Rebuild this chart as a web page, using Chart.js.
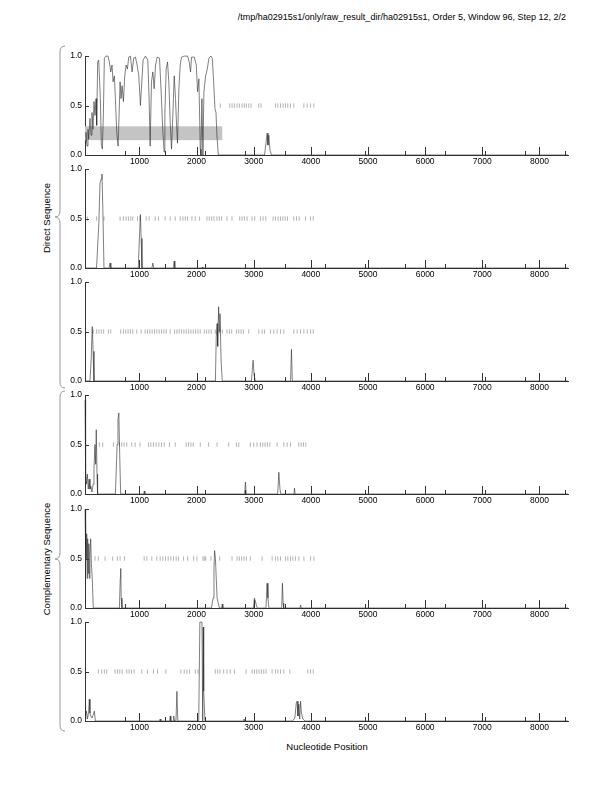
<!DOCTYPE html>
<html><head><meta charset="utf-8">
<script src="https://cdn.jsdelivr.net/npm/chart.js@4.4.0/dist/chart.umd.min.js"></script>
<style>
html,body{margin:0;padding:0;background:#fff;width:612px;height:792px;overflow:hidden;font-family:"Liberation Sans",Arial,sans-serif;}
canvas{position:absolute;left:0;}
.t{position:absolute;color:#000;white-space:nowrap;font-family:"Liberation Sans",Arial,sans-serif;}
.rot{transform:translate(-50%,-50%) rotate(-90deg);}
svg{position:absolute;left:0;top:0;}
</style></head><body>
<div class="t" style="right:46px;top:12px;font-size:9px;">/tmp/ha02915s1/only/raw_result_dir/ha02915s1, Order 5, Window 96, Step 12, 2/2</div>
<div class="t rot" style="left:46px;top:218px;font-size:9.5px;">Direct Sequence</div>
<div class="t rot" style="left:46px;top:559px;font-size:9.5px;">Complementary Sequence</div>
<div class="t" style="left:327px;top:746px;font-size:9.5px;transform:translate(-50%,-50%);">Nucleotide Position</div>
<svg width="612" height="792">
<path d="M65,46 Q60,46 60,52 L60,211 Q60,217 55,217 Q60,217 60,223 L60,382 Q60,388 65,388" fill="none" stroke="#999" stroke-width="1"/>
<path d="M65,391 Q60,391 60,397 L60,553 Q60,559 55,559 Q60,559 60,565 L60,725 Q60,731 65,731" fill="none" stroke="#999" stroke-width="1"/>
</svg>
<script>
// ---- axis ----
const xMin = 48, xMax = 8500;
const xTickValues = [1000,2000,3000,4000,5000,6000,7000,8000];
const xMinorTicks = [750,1450,2150,2850,3550,4250,4950,5650,6350,7050,7750,8450];
const yTickValues = [0, 0.5, 1];
const markerLevel = 0.5;

// ---- panel 1 (direct, frame 1) ----
const p1Pos = [48,65,83,100,112,135,153,170,188,206,223,241,252,270,287,317,334,352,369,387,416,451,475,498,521,539,562,580,603,627,644,662,679,697,720,744,767,790,814,843,872,901,931,960,989,1018,1042,1065,1106,1147,1170,1188,1211,1235,1258,1282,1311,1352,1386,1410,1433,1445,1468,1492,1515,1539,1562,1585,1609,1632,1650,1667,1691,1714,1737,1784,1843,1872,1895,1913,1960,1995,2018,2041,2065,2077,2094,2112,2129,2158,2188,2217,2252,2275,2299,2322,2340,2357,2381,3190,3215,3235,3250,3265,3285,3310,8500];
const p1Val = [0.12,0.23,0.09,0.26,0.16,0.37,0.2,0.43,0.26,0.54,0.4,0.57,0.3,0.94,0.96,0.57,0.1,0.06,0.4,0.98,1.0,1.0,0.94,0.84,0.91,0.74,0.8,0.57,0.23,0.09,0.4,0.74,0.57,0.7,0.54,0.8,0.91,0.87,0.99,1.0,0.84,0.98,0.99,0.91,0.8,0.5,0.74,0.96,1.0,0.96,0.57,0.09,0.74,0.84,0.67,0.91,0.99,0.98,0.57,0.23,0.03,0.4,0.87,0.94,0.74,0.33,0.06,0.4,0.8,0.57,0.3,0.12,0.67,0.91,0.99,1.0,1.0,0.94,0.84,0.99,0.99,0.91,0.64,0.77,0.06,0.0,0.57,0.0,0.64,0.8,0.87,0.98,1.0,0.98,0.74,0.47,0.43,0.2,0.0,0.0,0.12,0.22,0.1,0.2,0.05,0.0,0.0];
const p1Marks = [2416,2580,2621,2662,2708,2749,2796,2837,2872,2913,2954,3088,3129,3381,3422,3469,3515,3556,3597,3644,3702,3878,3936,3995,4053];
const p1Region = [48, 2450, 0.15, 0.29]; // start, end, low, high

// ---- panel 2 ----
const p2Pos = [48,250,290,310,330,345,360,380,470,486,500,980,1000,1018,1030,1045,1220,1235,1250,1595,1609,1620,2090,2100,2110,8500];
const p2Val = [0,0,0.45,0.85,0.9,0.95,0.6,0,0,0.05,0,0,0.3,0.54,0.3,0,0,0.05,0,0,0.07,0,0,0.01,0,0];
const p2Marks = [88,252,381,662,720,767,808,849,884,966,1012,1118,1170,1276,1334,1451,1539,1626,1714,1761,1802,1843,1919,1977,2053,2182,2223,2264,2305,2357,2398,2439,2533,2620,2755,2796,2837,2884,2971,3018,3118,3164,3211,3340,3381,3427,3468,3509,3550,3591,3702,3749,3796,3907,3995,4042];

// ---- panel 3 ----
const p3Pos = [48,135,155,175,190,205,2330,2345,2360,2370,2386,2400,2410,2430,2450,2960,2989,3010,3030,3645,3661,3675,8500];
const p3Val = [0,0,0.2,0.55,0.3,0,0,0.45,0.58,0.35,0.75,0.5,0.68,0.2,0,0,0.21,0.05,0,0,0.32,0,0];
const p3Marks = [194,252,293,334,375,457,498,673,720,761,802,843,884,954,1030,1100,1141,1182,1223,1264,1305,1346,1387,1428,1469,1539,1615,1656,1697,1738,1779,1820,1861,1902,1942,1983,2024,2065,2135,2176,2217,2258,2328,2369,2410,2451,2533,2574,2615,2697,2738,2779,2820,2913,3089,3147,3188,3293,3352,3410,3469,3527,3703,3761,3820,3878,3937,3995,4042];

// ---- panel 4 (complementary) ----
const p4Pos = [48,55,62,75,90,105,120,135,150,170,190,205,222,235,245,258,268,580,610,625,640,655,672,1075,1085,1095,2840,2855,2870,3420,3440,3460,3475,3705,3714,3725,8500];
const p4Val = [0.95,0.7,0.25,0.1,0.2,0.05,0.15,0.05,0.08,0.02,0.1,0.25,0.5,0.3,0.65,0.2,0,0,0.5,0.75,0.82,0.4,0,0,0.03,0,0,0.12,0,0,0.22,0.05,0,0,0.06,0,0];
const p4Marks = [299,358,545,650,691,732,779,866,925,1012,1159,1200,1246,1293,1340,1387,1434,1527,1627,1820,1860,1901,1942,2065,2211,2358,2562,2697,2738,2942,3001,3059,3118,3159,3200,3241,3282,3410,3527,3586,3644,3790,3831,3872,3913];

// ---- panel 5 ----
const p5Pos = [48,55,62,70,78,85,95,105,115,125,135,147,160,175,193,650,665,673,682,695,2260,2275,2290,2305,2316,2330,2345,2360,2400,2440,2450,2460,2995,3012,3030,3045,3060,3215,3234,3250,3265,3490,3503,3515,3525,3810,3820,3830,8500];
const p5Val = [1.0,0.6,0.9,0.5,0.75,0.3,0.7,0.35,0.65,0.3,0.55,0.7,0.45,0.3,0,0,0.3,0.4,0.1,0,0,0.05,0.1,0.4,0.58,0.5,0.3,0.1,0,0,0.04,0,0,0.1,0.07,0.03,0,0,0.25,0.1,0,0,0.25,0.05,0,0,0.03,0,0];
const p5Marks = [223,282,399,533,615,662,738,1083,1130,1217,1305,1364,1410,1457,1504,1551,1597,1644,1685,1773,1843,1948,2007,2112,2135,2159,2252,2404,2621,2709,2749,2790,2831,2872,2942,3147,3323,3381,3422,3469,3557,3597,3644,3685,3732,3790,3878,3995,4054];

// ---- panel 6 ----
const p6Pos = [48,60,75,90,110,123,135,150,170,190,212,230,1350,1363,1375,1530,1540,1550,1590,1600,1615,1640,1656,1672,2038,2058,2070,2095,2108,2118,2125,2148,2820,2830,2840,3680,3720,3745,3760,3775,3790,3805,3820,3835,3860,3900,8500];
const p6Val = [0.02,0.05,0.1,0.02,0.08,0.22,0.08,0.05,0.03,0.06,0.1,0,0,0.02,0,0,0.05,0,0,0.05,0,0,0.3,0,0,1.0,1.0,1.0,0,0.95,0.3,0,0,0.02,0,0,0.03,0.18,0.2,0.05,0.17,0.02,0.2,0.08,0.02,0,0];
const p6Marks = [282,340,387,428,574,615,656,697,779,820,861,907,1042,1141,1246,1317,1463,1726,1784,1831,1878,1977,2024,2328,2369,2410,2475,2533,2591,2662,2866,2972,3013,3053,3094,3135,3176,3217,3322,3381,3422,3469,3527,3632,3948,3995,4042];

const panels = [
  {pos:p1Pos, val:p1Val, marks:p1Marks, region:p1Region},
  {pos:p2Pos, val:p2Val, marks:p2Marks},
  {pos:p3Pos, val:p3Val, marks:p3Marks},
  {pos:p4Pos, val:p4Val, marks:p4Marks},
  {pos:p5Pos, val:p5Val, marks:p5Marks},
  {pos:p6Pos, val:p6Val, marks:p6Marks}
];

const FONT = {family:'"Liberation Sans", Arial, sans-serif', size:8.5};
const PAD_TOP = 8, AXIS_H = 20, AREA_H = 98.8, LEFT = 85, RIGHT_PAD = 44;

const regionPlugin = {
  id:'region',
  beforeDatasetsDraw(chart, args, opts){
    const r = opts.region; if(!r) return;
    const {ctx, scales:{x,y}} = chart;
    const x0 = x.getPixelForValue(r[0]), x1 = x.getPixelForValue(r[1]);
    const y0 = y.getPixelForValue(r[3]), y1 = y.getPixelForValue(r[2]);
    ctx.save(); ctx.fillStyle = '#c4c4c4'; ctx.fillRect(x0, y0, x1-x0, y1-y0); ctx.restore();
  }
};
const innerTicks = {
  id:'innerTicks',
  afterDraw(chart){
    const {ctx, scales:{x,y}, chartArea:a} = chart;
    ctx.save(); ctx.strokeStyle = '#333'; ctx.lineWidth = 1;
    ctx.beginPath();
    xTickValues.forEach(v=>{const px=Math.round(x.getPixelForValue(v))+0.5; ctx.moveTo(px,a.bottom); ctx.lineTo(px,a.bottom-8);});
    xMinorTicks.forEach(v=>{const px=Math.round(x.getPixelForValue(v))+0.5; ctx.moveTo(px,a.bottom); ctx.lineTo(px,a.bottom-4);});
    yTickValues.forEach(v=>{const py=Math.round(y.getPixelForValue(v))+0.5; ctx.moveTo(a.left,py); ctx.lineTo(a.left+4,py);});
    ctx.stroke(); ctx.restore();
  }
};

panels.forEach((p, i) => {
  const areaTop = 55.5 + 113.3 * i;
  const cv = document.createElement('canvas');
  const h = Math.round(PAD_TOP + AREA_H + AXIS_H);
  cv.width = 612; cv.height = h;
  cv.style.width = '612px'; cv.style.height = h + 'px';
  cv.style.top = (areaTop - PAD_TOP) + 'px';
  document.body.appendChild(cv);
  new Chart(cv, {
    type:'line',
    data:{datasets:[
      {type:'line', data:p.pos.map((x,k)=>({x, y:p.val[k]})), borderColor:'rgba(40,40,40,0.85)', borderWidth:0.7, pointRadius:0, tension:0, clip:3},
      {type:'scatter', data:p.marks.map(x=>({x, y:markerLevel})), pointStyle:'line', rotation:90, pointRadius:2.2, borderColor:'#a0a0a0', borderWidth:0.8, backgroundColor:'#a0a0a0'}
    ]},
    options:{
      responsive:false, animation:false, devicePixelRatio:1,
      layout:{padding:{top:PAD_TOP, right:RIGHT_PAD, left:0, bottom:0}},
      plugins:{legend:{display:false}, tooltip:{enabled:false}, region:{region:p.region}},
      scales:{
        x:{type:'linear', min:xMin, max:xMax,
           afterBuildTicks(s){ s.ticks = xTickValues.map(v=>({value:v})); },
           afterFit(s){ s.height = AXIS_H; },
           ticks:{font:FONT, color:'#000', padding:2, maxRotation:0, autoSkip:false, callback:v=>String(v)},
           grid:{display:false, drawTicks:false}, border:{display:true, color:'#333', width:1}},
        y:{type:'linear', min:0, max:1,
           afterBuildTicks(s){ s.ticks = yTickValues.map(v=>({value:v})); },
           afterFit(s){ s.width = LEFT; },
           ticks:{font:FONT, color:'#000', padding:3, callback:v=>Number(v).toFixed(1)},
           grid:{display:false, drawTicks:false}, border:{display:true, color:'#333', width:1}}
      }
    },
    plugins:[regionPlugin, innerTicks]
  });
});
</script>
</body></html>
